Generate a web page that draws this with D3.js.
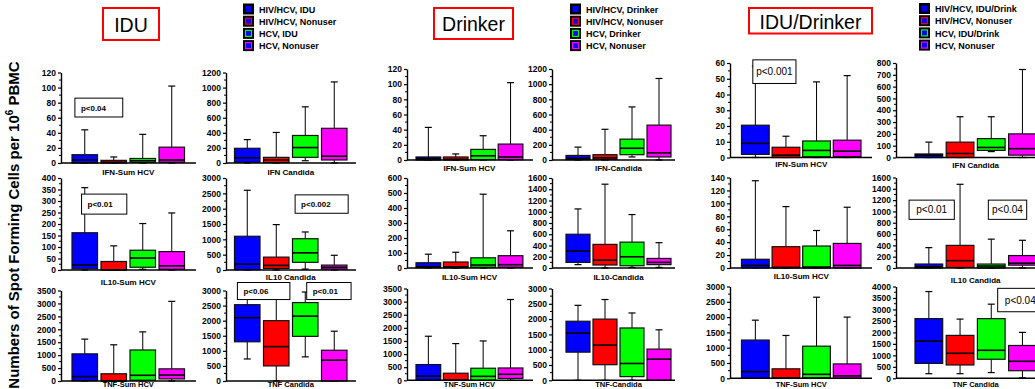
<!DOCTYPE html>
<html>
<head>
<meta charset="utf-8">
<script src="https://cdn.jsdelivr.net/npm/d3@7"></script>
<style>
  body { margin: 0; background: #fff; }
  text { font-family: 'Liberation Sans', Arial, sans-serif; }
</style>
</head>
<body>
<svg id="chart" width="1035" height="389"></svg>
<script>
// ---- data ----
const boxNames = ['HIV/HCV', 'HIV/HCV nonuser', 'HCV', 'HCV nonuser'];
const boxColors = ['#0000ff', '#ff0000', '#00ff00', '#ff00ff'];
const groupTitles = ['IDU', 'Drinker', 'IDU/Drinker'];
const legendIdu = ['HIV/HCV, IDU', 'HIV/HCV, Nonuser', 'HCV, IDU', 'HCV, Nonuser'];
const legendDrinker = ['HIV/HCV, Drinker', 'HIV/HCV, Nonuser', 'HCV, Drinker', 'HCV, Nonuser'];
const legendBoth = ['HIV/HCV, IDU/Drink', 'HIV/HCV, Nonuser', 'HCV, IDU/Drink', 'HCV, Nonuser'];
const labelsIdu = [['IFN-Sum HCV', 'IFN Candida'], ['IL10-Sum HCV', 'IL10 Candida'], ['TNF-Sum HCV', 'TNF Candida']];
const labelsDrinker = [['IFN-Sum HCV', 'IFN-Candida'], ['IL10-Sum HCV', 'IL10-Candida'], ['TNF-Sum HCV', 'TNF-Candida']];
const labelsBoth = [['IFN-Sum HCV', 'IFN Candida'], ['IL10-Sum HCV', 'IL10 Candida'], ['TNF-Sum HCV', 'TNF Candida']];
const yMaxIdu = [[120, 1200], [400, 3000], [3500, 3000]];
const yMaxDrinker = [[120, 1200], [600, 1600], [3500, 3000]];
const yMaxBoth = [[60, 800], [140, 1600], [3000, 4000]];
const yStepIdu = [[20, 200], [50, 500], [500, 500]];
const yStepDrinker = [[20, 200], [100, 200], [500, 500]];
const yStepBoth = [[10, 100], [20, 200], [500, 500]];

// box stats: [low whisker, q1, median, q3, high whisker]
const iduIfnHcv = [[0, 0, 4, 11, 44], [0, 0, 1, 3.5, 8], [0, 1, 3, 6, 38], [0, 1, 4, 21, 102]];
const iduIfnCandida = [[0, 10, 70, 195, 310], [0, 5, 40, 75, 405], [30, 75, 205, 365, 745], [0, 40, 90, 460, 1075]];
const iduIl10Hcv = [[0, 5, 22, 162, 358], [0, 0, 1, 37, 105], [3, 12, 52, 86, 202], [0, 3, 18, 80, 248]];
const iduIl10Candida = [[0, 10, 190, 1100, 2600], [0, 50, 150, 420, 1480], [30, 250, 560, 1020, 1240], [0, 30, 90, 160, 480]];
const iduTnfHcv = [[0, 10, 170, 1050, 1620], [0, 0, 10, 280, 1400], [0, 30, 220, 1200, 1900], [0, 80, 230, 470, 3080]];
const iduTnfCandida = [[730, 1300, 2100, 2530, 2750], [0, 500, 1140, 2000, 2750], [800, 1480, 2150, 2600, 2950], [0, 0, 690, 1020, 1650]];

const drkIfnHcv = [[0, 0, 2, 4, 43], [0, 0, 1, 4, 8], [0, 0.5, 5.5, 14, 32], [0, 0.5, 4, 21, 102]];
const drkIfnCandida = [[0, 5, 23, 60, 170], [0, 10, 30, 70, 405], [40, 70, 155, 275, 700], [0, 40, 95, 460, 1075]];
const drkIl10Hcv = [[0, 2, 9, 35, 92], [0, 2, 8, 40, 105], [0, 5, 20, 68, 492], [0, 5, 22, 82, 248]];
const drkIl10Candida = [[60, 100, 300, 600, 1050], [0, 53, 140, 420, 1490], [10, 40, 200, 460, 950], [10, 60, 100, 170, 450]];
const drkTnfHcv = [[0, 10, 160, 600, 1680], [0, 0, 10, 270, 1400], [0, 0, 150, 460, 1500], [0, 70, 230, 470, 3080]];
const drkTnfCandida = [[0, 920, 1540, 1930, 2450], [0, 510, 1150, 2000, 2640], [0, 120, 550, 1710, 2200], [0, 0, 690, 1020, 1650]];

const bothIfnHcv = [[0, 2, 9, 20.5, 58], [0, 0, 1.5, 6.5, 13.5], [0, 0.5, 4.5, 10.5, 48], [0, 0.5, 4, 11, 52]];
const bothIfnCandida = [[0, 0, 20, 30, 130], [0, 0, 34, 130, 345], [50, 60, 85, 160, 345], [0, 20, 75, 200, 745]];
const bothIl10Hcv = [[0, 0, 4, 13.5, 135], [0, 0, 1, 33, 95], [0, 0, 1.5, 34, 58], [0, 0, 4, 38, 94]];
const bothIl10Candida = [[0, 0, 20, 70, 360], [0, 10, 130, 400, 1480], [0, 0, 35, 70, 510], [0, 50, 85, 220, 490]];
const bothTnfHcv = [[0, 0, 220, 1250, 1900], [0, 0, 10, 310, 1400], [0, 20, 130, 1050, 2650], [0, 0, 80, 470, 2000]];
const bothTnfCandida = [[200, 650, 1620, 2600, 3780], [200, 580, 1090, 1870, 2580], [250, 830, 1220, 2600, 3230], [20, 330, 740, 1430, 2000]];

// p-value notes: group, row, col, text, box-index span, value span
const pNotes = [
  { g: 0, r: 0, c: 0, text: 'p<0.04', i: [0.1, 1.75], v: [86, 61] },
  { g: 0, r: 1, c: 0, text: 'p<0.01', i: [0.33, 1.89], v: [330, 243] },
  { g: 0, r: 1, c: 1, text: 'p<0.002', i: [2.09, 3.92], v: [2450, 1850] },
  { g: 0, r: 2, c: 1, text: 'p<0.06', i: [0.1, 1.91], v: [3265, 2700] },
  { g: 0, r: 2, c: 1, text: 'p<0.01', i: [2.49, 4.02], v: [3265, 2700] },
  { g: 2, r: 0, c: 0, text: 'p<0.001', i: [0.37, 1.78], v: [62, 47] },
  { g: 2, r: 1, c: 1, text: 'p<0.01', i: [-0.19, 1.26], v: [1200, 860] },
  { g: 2, r: 1, c: 1, text: 'p<0.04', i: [2.35, 3.58], v: [1200, 860] },
  { g: 2, r: 2, c: 1, text: 'p<0.04', i: [2.65, 4.1], v: [3920, 2900] }
];

const groups = [
  { title: groupTitles[0], legend: legendIdu, labels: labelsIdu, yMax: yMaxIdu, yStep: yStepIdu,
    data: [[iduIfnHcv, iduIfnCandida], [iduIl10Hcv, iduIl10Candida], [iduTnfHcv, iduTnfCandida]] },
  { title: groupTitles[1], legend: legendDrinker, labels: labelsDrinker, yMax: yMaxDrinker, yStep: yStepDrinker,
    data: [[drkIfnHcv, drkIfnCandida], [drkIl10Hcv, drkIl10Candida], [drkTnfHcv, drkTnfCandida]] },
  { title: groupTitles[2], legend: legendBoth, labels: labelsBoth, yMax: yMaxBoth, yStep: yStepBoth,
    data: [[bothIfnHcv, bothIfnCandida], [bothIl10Hcv, bothIl10Candida], [bothTnfHcv, bothTnfCandida]] }
];

// ---- layout ----
const layout = [
  { title: { x: 103, y: 8, w: 56, h: 32, base: 32 }, legend: { x: 243, y: 3.5 }, pBold: true,
    cols: [{ ax: 61, x0: 72, step: 29, bw: 25.5, end: 196 }, { ax: 226, x0: 234.5, step: 29, bw: 25.5, end: 356 }],
    rows: [{ top: 72.5, bot: 163, lab: [174.5, 174.5] }, { top: 178, bot: 270, lab: [284.5, 280] }, { top: 290.5, bot: 381, lab: [386.8, 386.8] }] },
  { title: { x: 434, y: 8, w: 79, h: 31, base: 31 }, legend: { x: 570, y: 3.5 }, pBold: true,
    cols: [{ ax: 407, x0: 416, step: 27.4, bw: 24.7, end: 533 }, { ax: 552, x0: 566, step: 27, bw: 24, end: 675 }],
    rows: [{ top: 69, bot: 160, lab: [171, 171] }, { top: 178, bot: 268, lab: [280, 280] }, { top: 288.5, bot: 380.3, lab: [386.8, 386.8] }] },
  { title: { x: 749, y: 8, w: 123, h: 25.5, base: 29 }, legend: { x: 919, y: 3 }, pBold: false,
    cols: [{ ax: 730, x0: 741.5, step: 30.6, bw: 27.7, end: 872 }, { ax: 896, x0: 915, step: 31.2, bw: 27.7, end: 1045 }],
    rows: [{ top: 63, bot: 157.5, lab: [167, 168] }, { top: 177.5, bot: 268, lab: [279, 283] }, { top: 286.5, bot: 378.3, lab: [386.8, 386.8] }] }
];

const svg = d3.select('#chart');

// y axis title
const yTitle = svg.append('text')
  .attr('transform', 'translate(19, 225) rotate(-90)')
  .attr('text-anchor', 'middle')
  .attr('font-size', 15)
  .attr('font-weight', 'bold')
  .attr('fill', '#000');
yTitle.append('tspan').text('Numbers of Spot Forming Cells per 10');
yTitle.append('tspan').text('6').attr('font-size', 10).attr('dy', -6);
yTitle.append('tspan').text(' PBMC').attr('dy', 6);

groups.forEach((grp, g) => {
  const L = layout[g];

  // title box
  svg.append('rect')
    .attr('x', L.title.x).attr('y', L.title.y)
    .attr('width', L.title.w).attr('height', L.title.h)
    .attr('fill', 'none').attr('stroke', '#ff0000').attr('stroke-width', 2);
  svg.append('text')
    .attr('x', L.title.x + L.title.w / 2).attr('y', L.title.base)
    .attr('text-anchor', 'middle').attr('font-size', 19.5)
    .text(grp.title);

  // legend
  const leg = svg.append('g').attr('transform', `translate(${L.legend.x}, ${L.legend.y})`);
  const items = leg.selectAll('g').data(grp.legend).enter().append('g')
    .attr('transform', (d, i) => `translate(0, ${i * 12.2})`);
  items.append('rect').attr('width', 11).attr('height', 11).attr('fill', '#000');
  items.append('rect')
    .attr('x', 2.5).attr('y', 2.5).attr('width', 6).attr('height', 6)
    .attr('fill', '#0000ff')
    .attr('stroke', (d, i) => i === 0 ? 'none' : boxColors[i])
    .attr('stroke-width', 1.2);
  items.append('text')
    .attr('x', 16).attr('y', 9.3)
    .attr('font-size', 9).attr('font-weight', 'bold')
    .text(d => d);

  // panels
  grp.data.forEach((rowData, r) => {
    rowData.forEach((stats, c) => {
      const col = L.cols[c], row = L.rows[r];
      const pad = col.step - col.bw;
      const r0 = col.x0 - pad / 2;
      const x = d3.scaleBand().domain(boxNames)
        .range([r0, r0 + 4 * col.step])
        .paddingInner(pad / col.step).paddingOuter(pad / col.step / 2);
      const yMax = grp.yMax[r][c], step = grp.yStep[r][c];
      const y = d3.scaleLinear().domain([0, yMax]).range([row.bot, row.top]);
      const p = svg.append('g');

      // boxes
      const boxes = p.selectAll('g.box').data(stats).enter().append('g').attr('class', 'box');
      const cx = (d, i) => x(boxNames[i]) + x.bandwidth() / 2;
      boxes.append('line')
        .attr('x1', cx).attr('x2', cx)
        .attr('y1', d => y(d[4])).attr('y2', d => y(d[3]))
        .attr('stroke', '#000').attr('stroke-width', 1);
      boxes.append('line')
        .attr('x1', cx).attr('x2', cx)
        .attr('y1', d => y(d[1])).attr('y2', d => y(d[0]))
        .attr('stroke', '#000').attr('stroke-width', 1);
      [4, 0].forEach(k => {
        boxes.append('line')
          .attr('x1', (d, i) => cx(d, i) - 3.5).attr('x2', (d, i) => cx(d, i) + 3.5)
          .attr('y1', d => y(d[k])).attr('y2', d => y(d[k]))
          .attr('stroke', '#000').attr('stroke-width', 1.2);
      });
      boxes.append('rect')
        .attr('x', (d, i) => x(boxNames[i]))
        .attr('width', x.bandwidth())
        .attr('y', d => y(d[3]))
        .attr('height', d => Math.max(0.8, y(d[1]) - y(d[3])))
        .attr('fill', (d, i) => boxColors[i])
        .attr('stroke', '#111').attr('stroke-width', 1.2);
      boxes.append('line')
        .attr('x1', (d, i) => x(boxNames[i])).attr('x2', (d, i) => x(boxNames[i]) + x.bandwidth())
        .attr('y1', d => y(d[2])).attr('y2', d => y(d[2]))
        .attr('stroke', '#000').attr('stroke-width', 1.6);

      // y axis
      const yAxis = d3.axisLeft(y)
        .tickValues(d3.range(0, yMax + step / 2, step))
        .tickSize(3).tickSizeOuter(0).tickPadding(2)
        .tickFormat(d3.format('d'));
      const ag = p.append('g').attr('transform', `translate(${col.ax}, 0)`).call(yAxis);
      ag.select('.domain').attr('stroke', '#000').attr('stroke-width', 1.4);
      ag.selectAll('.tick line').attr('stroke', '#000').attr('stroke-width', 1.2);
      ag.selectAll('.tick text')
        .attr('font-size', 8.5).attr('font-weight', 'bold')
        .attr('font-family', "'Liberation Sans', Arial, sans-serif").attr('fill', '#000');
      ag.selectAll('line.minor').data(d3.range(step / 2, yMax, step)).enter().append('line')
        .attr('class', 'minor')
        .attr('x1', -2).attr('x2', 0)
        .attr('y1', d => y(d)).attr('y2', d => y(d))
        .attr('stroke', '#000').attr('stroke-width', 1);

      // x axis
      p.append('line')
        .attr('x1', col.ax).attr('x2', col.end)
        .attr('y1', row.bot).attr('y2', row.bot)
        .attr('stroke', '#000').attr('stroke-width', 1.4);

      // panel label, centred under the boxes
      p.append('text')
        .attr('x', col.x0 + (4 * col.step - pad) / 2).attr('y', row.lab[c])
        .attr('text-anchor', 'middle').attr('font-size', r === 2 ? 7.5 : 8).attr('font-weight', 'bold')
        .text(grp.labels[r][c]);

      // p-value notes
      pNotes.filter(n => n.g === g && n.r === r && n.c === c).forEach(n => {
        const nx0 = col.x0 + n.i[0] * col.step, nx1 = col.x0 + n.i[1] * col.step;
        const ny0 = y(n.v[0]), ny1 = y(n.v[1]);
        p.append('rect')
          .attr('x', nx0).attr('y', ny0).attr('width', nx1 - nx0).attr('height', ny1 - ny0)
          .attr('fill', '#fff').attr('stroke', '#000').attr('stroke-width', 1);
        if (L.pBold) {
          p.append('text')
            .attr('x', nx0 + 6).attr('y', (ny0 + ny1) / 2 + 3)
            .attr('font-size', 8).attr('font-weight', 'bold')
            .text(n.text);
        } else {
          p.append('text')
            .attr('x', (nx0 + nx1) / 2).attr('y', (ny0 + ny1) / 2 + 3.6)
            .attr('text-anchor', 'middle').attr('font-size', 10)
            .text(n.text);
        }
      });
    });
  });
});
</script>
</body>
</html>
